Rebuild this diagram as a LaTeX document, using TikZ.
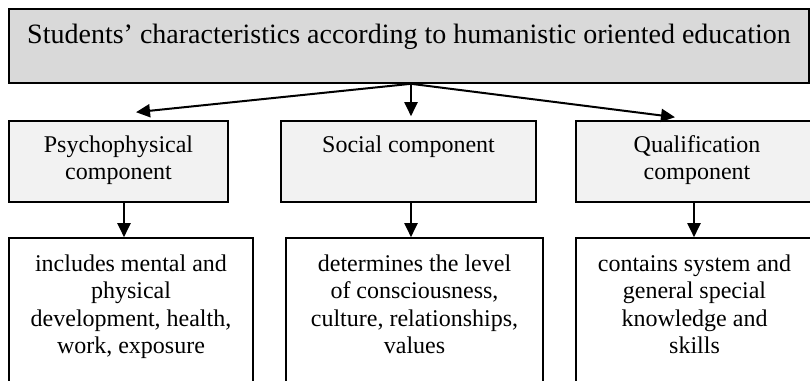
\documentclass[tikz,border=0pt]{standalone}
\usepackage{fontspec}
\setmainfont{Liberation Serif}
\usetikzlibrary{shapes.geometric, arrows.meta}
\newcommand{\stack}[1]{\begin{tabular}[t]{@{}c@{}}#1\end{tabular}}
\tikzstyle{head} = [rectangle, minimum width=800pt, text height=34pt, text depth=40pt, inner sep=0pt, text centered, draw=black, line width=1.6pt, fill=black!15, font=\fontsize{28pt}{32pt}\selectfont]
\tikzstyle{comp} = [rectangle, text height=31pt, text depth=50pt, inner sep=0pt, text centered, draw=black, line width=1.6pt, fill=black!5, font=\fontsize{24pt}{27.6pt}\selectfont]
\tikzstyle{desc} = [rectangle, text height=33pt, text depth=147pt, inner sep=0pt, text centered, draw=black, line width=1.6pt, fill=white, font=\fontsize{24pt}{27.6pt}\selectfont]
\tikzstyle{arrow} = [line width=2pt, -{Triangle[length=14pt,width=13pt]}]

\begin{document}
\begin{tikzpicture}[node distance=115.5pt]
\useasboundingbox (0,0) rectangle (810pt,-380pt);
\clip (0,0) rectangle (810pt,-380pt);
% Drawing nodes
\node (title) [head] at (409pt,-46pt) {Students’ characteristics according to humanistic oriented education};
\node (psy) [comp, below of=title, xshift=-290.5pt, minimum width=219pt] {\stack{Psychophysical\\component}};
\node (soc) [comp, below of=title, xshift=-0.5pt, minimum width=255pt] {Social component};
\node (qual) [comp, below of=title, xshift=288pt, minimum width=242pt] {\stack{Qualification\\component}};
\node (psyd) [desc, below of=psy, xshift=12.5pt, yshift=-51pt, minimum width=244pt] {\stack{includes mental and\\physical\\development, health,\\work, exposure}};
\node (socd) [desc, below of=soc, xshift=6pt, yshift=-51pt, minimum width=257pt] {\stack{determines the level\\of consciousness,\\culture, relationships,\\values}};
\node (quald) [desc, below of=qual, xshift=-2.5pt, yshift=-51pt, minimum width=237pt] {\stack{contains system and\\general special\\knowledge and\\skills}};

% Drawing arrows
\draw [arrow] ([xshift=2pt]title.south) -- ([xshift=17.5pt,yshift=8pt]psy.north);
\draw [arrow] ([xshift=2pt]title.south) -- ([xshift=2.5pt,yshift=4pt]soc.north);
\draw [arrow] ([xshift=2pt]title.south) -- ([xshift=-22pt,yshift=3pt]qual.north);
\draw [arrow] ([xshift=5.5pt]psy.south) -- ([xshift=5.5pt]psy.south |- psyd.north);
\draw [arrow] ([xshift=2.5pt]soc.south) -- ([xshift=2.5pt]soc.south |- socd.north);
\draw [arrow] ([xshift=-3pt]qual.south) -- ([xshift=-3pt]qual.south |- quald.north);
\end{tikzpicture}
\end{document}
